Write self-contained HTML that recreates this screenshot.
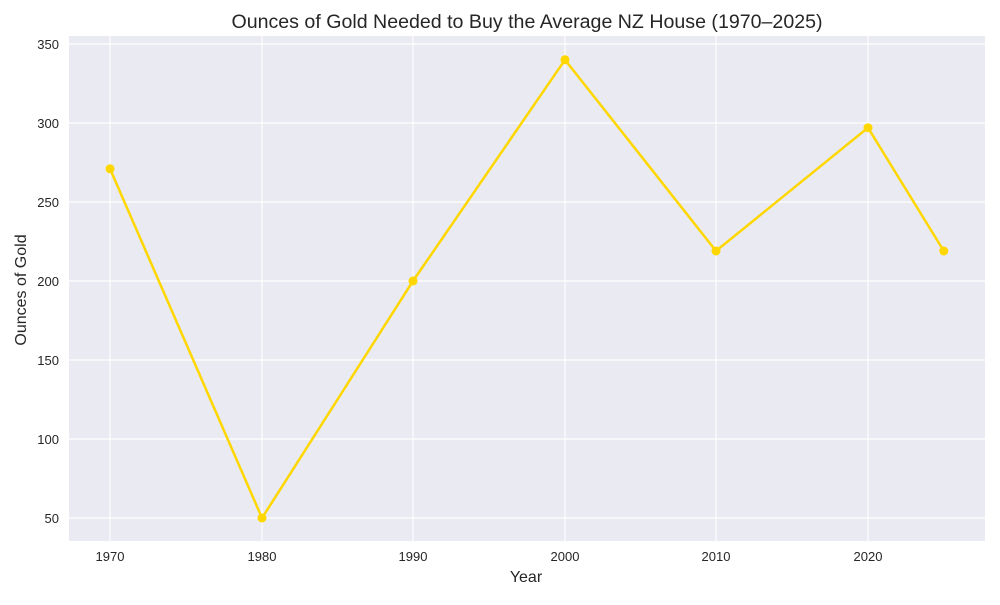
<!DOCTYPE html>
<html><head><meta charset="utf-8"><style>
body{margin:0;background:#fff;}
svg text{font-family:"Liberation Sans",sans-serif;fill:#262626;}
</style></head><body>
<svg width="1000" height="600" xmlns="http://www.w3.org/2000/svg">
<rect x="69" y="36" width="916" height="505" fill="#eaeaf2"/>
<g stroke="#fff" stroke-width="1.2">
<line x1="69" x2="985" y1="44" y2="44"/>
<line x1="69" x2="985" y1="123" y2="123"/>
<line x1="69" x2="985" y1="202" y2="202"/>
<line x1="69" x2="985" y1="281" y2="281"/>
<line x1="69" x2="985" y1="360" y2="360"/>
<line x1="69" x2="985" y1="439" y2="439"/>
<line x1="69" x2="985" y1="518" y2="518"/>
<line y1="36" y2="541" x1="110" x2="110"/>
<line y1="36" y2="541" x1="262" x2="262"/>
<line y1="36" y2="541" x1="413" x2="413"/>
<line y1="36" y2="541" x1="565" x2="565"/>
<line y1="36" y2="541" x1="716" x2="716"/>
<line y1="36" y2="541" x1="868" x2="868"/>
</g>
<g font-size="13" text-anchor="end">
<text x="59" y="49">350</text><text x="59" y="128">300</text><text x="59" y="207">250</text>
<text x="59" y="286">200</text><text x="59" y="365">150</text><text x="59" y="444">100</text>
<text x="59" y="523">50</text>
</g>
<g font-size="13" text-anchor="middle">
<text x="110" y="561">1970</text><text x="262" y="561">1980</text><text x="413" y="561">1990</text>
<text x="565" y="561">2000</text><text x="716" y="561">2010</text><text x="868" y="561">2020</text>
</g>
<text x="526" y="582" font-size="16" text-anchor="middle">Year</text>
<text x="26" y="290" font-size="16" text-anchor="middle" transform="rotate(-90 26 290)">Ounces of Gold</text>
<text x="527" y="28" font-size="19.6" text-anchor="middle">Ounces of Gold Needed to Buy the Average NZ House (1970–2025)</text>
<polyline fill="none" stroke="#ffd700" stroke-width="2.5" points="110,168.8 262,518 413,281 565,59.8 716,251 868,127.7 943.8,251"/>
<g fill="#ffd700">
<circle cx="110" cy="168.8" r="4.5"/><circle cx="262" cy="518" r="4.5"/><circle cx="413" cy="281" r="4.5"/>
<circle cx="565" cy="59.8" r="4.5"/><circle cx="716" cy="251" r="4.5"/><circle cx="868" cy="127.7" r="4.5"/>
<circle cx="943.8" cy="251" r="4.5"/>
</g>
</svg>
</body></html>
